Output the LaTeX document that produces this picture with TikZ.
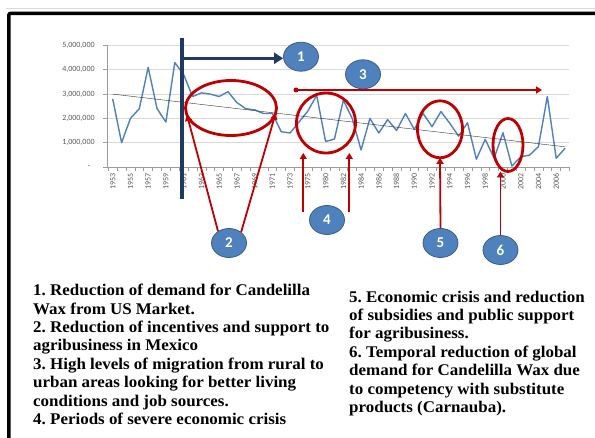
\documentclass[tikz,border=0pt]{standalone}
\usepackage{fontspec}
\setmainfont[FakeStretch=1.04]{Liberation Serif}
\newfontfamily\chartfont{Carlito}
\usepackage{tikz}
\usetikzlibrary{positioning, shapes.geometric, arrows.meta, calc}
\definecolor{wineRed}{HTML}{C00000}
\definecolor{navyBar}{HTML}{1F3864}
\definecolor{seriesBlue}{HTML}{4F81BD}
\definecolor{circEdge}{HTML}{385D8A}
\definecolor{gridGray}{HTML}{D9D9D9}
\definecolor{labelGray}{HTML}{595959}
\tikzstyle{numcirc} = [ellipse, minimum width=35pt, minimum height=29pt, inner sep=0pt, fill=seriesBlue, draw=circEdge, line width=0.8pt, text=white, font=\chartfont\bfseries\fontsize{15}{15}\selectfont]
\tikzstyle{redring} = [ellipse, draw=wineRed, line width=2.8pt, inner sep=0pt, outer sep=0pt]
\tikzstyle{redarrow} = [draw=wineRed, line width=1.8pt, -{Triangle[length=6pt,width=7pt]}]
\tikzstyle{navyarrow} = [draw=navyBar, line width=3.5pt, -{Triangle[length=9pt,width=11pt]}]
\tikzstyle{gridline} = [draw=gridGray, line width=0.8pt]
\tikzstyle{ticklabel} = [font=\chartfont\fontsize{8}{8}\selectfont, text=labelGray, inner sep=1pt]
\tikzstyle{notes} = [align=left, inner sep=0pt, font=\frenchspacing\bfseries\fontsize{16.3}{18.4}\selectfont]

\begin{document}
\begin{tikzpicture}[x=1pt,y=-1pt]
	\useasboundingbox (0,0) rectangle (595,438);
	\fill[white] (0,0) rectangle (595,438);
	\draw[black!15, line width=0.8pt] (6,8.5) -- (595,8.5);
	\draw[black, line width=3.5pt, rounded corners=2pt] (8.8,438) -- (8.8,13.3) -- (595,13.3);

	\begin{scope}[shift={(112.7,167)}, x=8.87pt, y=24.3pt]
		\foreach \v in {1,...,5}
			\draw[gridline] (-0.64,\v) -- (51.4,\v);
		\draw[labelGray!60, line width=0.6pt] (-0.64,0) -- (51.4,0);
		\draw[labelGray!60, line width=0.6pt] (-0.64,0) -- (-0.64,5);
		\foreach \v in {0,...,5}
			\draw[labelGray!60, line width=0.6pt] (-0.64,\v) -- (-1.04,\v);
		\foreach \k in {0,...,52}
			\draw[labelGray!60, line width=0.6pt] (\k-0.5,0) -- (\k-0.5,-0.15);
		\foreach \v/\txt in {1/{1,000,000},2/{2,000,000},3/{3,000,000},4/{4,000,000},5/{5,000,000}}
			\node[ticklabel, anchor=east] at (-1.9,\v) {\txt};
		\node[ticklabel, anchor=east] at (-2.4,0) {-};
		\foreach \i/\yr in {0/1953,2/1955,4/1957,6/1959,8/1961,10/1963,12/1965,14/1967,16/1969,18/1971,20/1973,22/1975,24/1980,26/1982,28/1984,30/1986,32/1988,34/1990,36/1992,38/1994,40/1996,42/1998,44/2000,46/2002,48/2004,50/2006}
			\node[ticklabel, rotate=90, anchor=east] at (\i,-0.2) {\yr};
		\draw[seriesBlue, line width=1.4pt, line join=round] plot coordinates {(0,2.8) (1,1.0) (2,2.0) (3,2.4) (4,4.1) (5,2.4) (6,1.85) (7,4.3) (8,3.8) (9,2.9) (10,3.05) (11,3.0) (12,2.9) (13,3.1) (14,2.65) (15,2.4) (16,2.35) (17,2.2) (18,2.2) (19,1.45) (20,1.4) (21,1.85) (22,2.3) (23,2.95) (24,1.05) (25,1.15) (26,2.75) (27,2.0) (28,0.7) (29,2.0) (30,1.4) (31,1.95) (32,1.5) (33,2.2) (34,1.55) (35,2.2) (36,1.66) (37,2.28) (38,1.8) (39,1.27) (40,1.82) (41,0.32) (42,1.14) (43,0.36) (44,1.41) (45,0.04) (46,0.42) (47,0.49) (48,0.84) (49,2.9) (50,0.36) (51,0.77)};
		\draw[black!80, line width=0.4pt] (0,3.0) -- (51,0.83);
	\end{scope}

	\coordinate (bartop) at (181.7,38);
	\coordinate (barbot) at (181.7,199);
	\draw[navyBar, line width=4pt] (bartop) -- (barbot);
	\node[numcirc] (c1) at (301,56.7) {1};
	\coordinate (a1start) at (181.7,58.3);
	\draw[navyarrow] (a1start) -- (a1start -| c1.west);

	\node[numcirc] (c3) at (363,74.3) {3};
	\coordinate (r3start) at (296,90);
	\coordinate (r3end) at (542,90);
	\fill[wineRed] (r3start) circle (2.5pt);
	\draw[redarrow, line width=1.6pt] (r3start) -- (r3end);

	\node[redring, minimum width=91pt, minimum height=55pt] (ring2) at (231,108) {};
	\node[redring, minimum width=59pt, minimum height=60pt] (ring4) at (326,123) {};
	\node[redring, minimum width=45pt, minimum height=57pt] (ring5) at (440,129.3) {};
	\node[redring, minimum width=30pt, minimum height=53pt] (ring6) at (508,145) {};

	\node[numcirc] (c2) at (229,243) {2};
	\node[numcirc] (c4) at (327,220) {4};
	\node[numcirc] (c5) at (440.5,243) {5};
	\node[numcirc] (c6) at (500.5,250) {6};

	\draw[redarrow] (c2.133) -- (ring2.189);
	\draw[redarrow] (c2.42) -- (ring2.-7);
	\coordinate (a4l) at (303.3,211.7);
	\coordinate (a4r) at (349.3,211.7);
	\draw[redarrow] (a4l) -- (a4l |- ring4.south);
	\draw[redarrow] (a4r) -- (a4r |- ring4.south);
	\draw[redarrow] (c5.north) -- (ring5.south);
	\draw[redarrow] (c6.north) -- (c6.north |- ring6.south);

	\node[notes, anchor=north west] (notes1) at (33,284) {1. Reduction of demand for Candelilla\\Wax from US Market.\\2. Reduction of incentives and support to\\agribusiness in Mexico\\3. High levels of migration from rural to\\urban areas looking for better living\\conditions and job sources.\\4. Periods of severe economic crisis};
	\node[notes, anchor=north west] (notes2) at (349,290.5) {5. Economic crisis and reduction\\of subsidies and public support\\for agribusiness.\\6. Temporal reduction of global\\demand for Candelilla Wax due\\to competency with substitute\\products (Carnauba).};
\end{tikzpicture}
\end{document}
